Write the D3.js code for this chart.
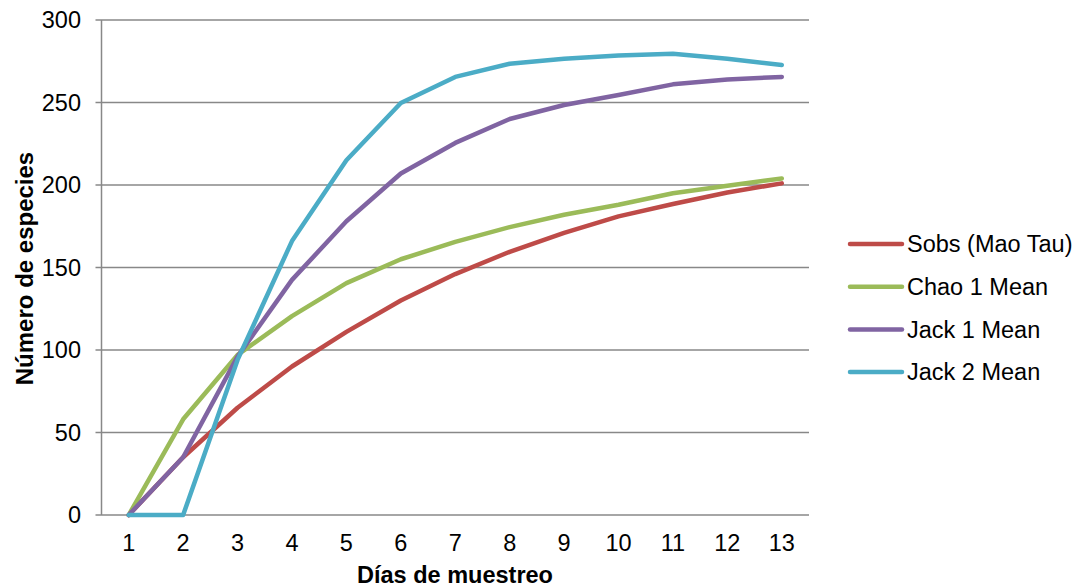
<!DOCTYPE html>
<html><head><meta charset="utf-8">
<script src="https://cdn.jsdelivr.net/npm/d3@7"></script>
<style>body{margin:0;background:#fff}svg{font-family:"Liberation Sans",Arial,sans-serif}</style>
</head><body><svg id="c" width="1086" height="588"></svg>
<script>
const days = ["1","2","3","4","5","6","7","8","9","10","11","12","13"];
const yTicks = [0,50,100,150,200,250,300];
const seriesNames = ["Sobs (Mao Tau)","Chao 1 Mean","Jack 1 Mean","Jack 2 Mean"];
const colors = ["#BE4B48","#9BBB59","#8064A2","#4BACC6"];
const sobs  = [0,35,65,90,111,130,146,159.5,171,181,188.5,195.5,201];
const chao1 = [0,58,97,120.5,140.5,155,165.5,174.5,182,188,195,199.5,204];
const jack1 = [0,35,96,142.5,178,207,225.5,240,248.5,254.5,261,264,265.5];
const jack2 = [0,0,94,166,215,249.7,265.5,273.5,276.5,278.5,279.5,276.5,272.7];
const allSeries = [sobs,chao1,jack1,jack2];

const svg = d3.select("#c");
const L=101.5, R=809, T=20, B=515;
const FS = 23.5;
const x = d3.scaleBand().domain(days).range([L,R]);
const y = d3.scaleLinear().domain([0,300]).range([B,T]);

svg.append("g").selectAll("line").data(yTicks).join("line")
  .attr("x1",L-6).attr("x2",R).attr("y1",d=>y(d)).attr("y2",d=>y(d))
  .attr("stroke","#888").attr("stroke-width",1.5);
svg.append("line").attr("x1",L).attr("x2",L).attr("y1",T).attr("y2",B)
  .attr("stroke","#888").attr("stroke-width",1.5);

svg.append("g").selectAll("text").data(yTicks).join("text")
  .attr("x",81).attr("y",d=>y(d)).attr("dy","0.35em").attr("text-anchor","end")
  .attr("font-size",FS).attr("fill","#000").text(d=>d);
svg.append("g").selectAll("text").data(days).join("text")
  .attr("x",d=>x(d)+x.bandwidth()/2).attr("y",551).attr("text-anchor","middle")
  .attr("font-size",FS).attr("fill","#000").text(d=>d);

svg.append("text").attr("x",455).attr("y",583).attr("text-anchor","middle")
  .attr("font-size",FS).attr("font-weight","bold").text("Días de muestreo");
svg.append("text").attr("transform","translate(33,268.5) rotate(-90)").attr("text-anchor","middle")
  .attr("font-size",24).attr("font-weight","bold").text("Número de especies");

const line = d3.line().x((d,i)=>x(days[i])+x.bandwidth()/2).y(d=>y(d));
svg.append("g").selectAll("path").data(allSeries).join("path")
  .attr("d",line).attr("fill","none").attr("stroke",(d,i)=>colors[i])
  .attr("stroke-width",4.5).attr("stroke-linejoin","round").attr("stroke-linecap","round");

const lg = svg.append("g").selectAll("g").data(seriesNames).join("g")
  .attr("transform",(d,i)=>`translate(0,${244+i*42.7})`);
lg.append("line").attr("x1",850).attr("x2",902).attr("y1",0).attr("y2",0)
  .attr("stroke",(d,i)=>colors[i]).attr("stroke-width",4.5).attr("stroke-linecap","round");
lg.append("text").attr("x",907).attr("y",0).attr("dy","0.35em").attr("font-size",FS).text(d=>d);
</script></body></html>
